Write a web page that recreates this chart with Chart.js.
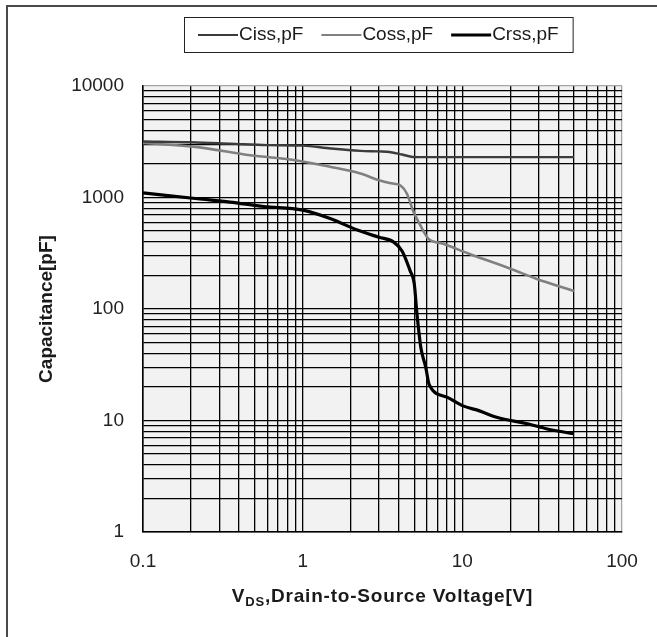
<!DOCTYPE html>
<html>
<head>
<meta charset="utf-8">
<script src="https://cdn.jsdelivr.net/npm/chart.js@4.4.1/dist/chart.umd.min.js"></script>
<style>
  html,body{margin:0;padding:0;background:#fff}
  canvas{display:block}
</style>
</head>
<body>
<canvas id="capChart" width="657" height="637"></canvas>
<script>
// Capacitance vs V_DS, log/log
const cissV = [0.1, 0.2, 0.35, 0.6, 1.0, 1.5, 2.3, 3.0, 3.5, 4.2, 4.9, 6, 10, 20, 50];
const cissC = [3180, 3130, 3040, 2950, 2920, 2750, 2620, 2590, 2560, 2430, 2310, 2300, 2300, 2300, 2300];

const cossV = [0.1, 0.22, 0.47, 0.92, 1.5, 2.3, 3.0, 3.6, 4.1, 4.5, 4.9, 5.4, 6.1, 7.6, 11, 20, 29, 50];
const cossC = [3080, 2830, 2390, 2150, 1880, 1640, 1430, 1340, 1280, 1080, 770, 580, 430, 385, 313, 230, 187, 145];

const crssV = [0.1, 0.22, 0.35, 0.57, 1.0, 1.5, 2.2, 3.0, 3.7, 4.2, 4.7, 5.0, 5.2, 5.5, 5.9, 6.2, 8, 10, 12.8, 16.4, 26, 34, 50];
const crssC = [1100, 975, 910, 830, 770, 645, 510, 440, 400, 330, 222, 168, 90, 45, 30, 21, 16.2, 13.6, 12.2, 10.7, 9.3, 8.4, 7.6];

const seriesNames = ['Ciss,pF', 'Coss,pF', 'Crss,pF'];
const xTickLabels = ['0.1', '1', '10', '100'];
const yTickLabels = ['1', '10', '100', '1000', '10000'];
const minorSteps = [1, 2, 3, 4, 5, 6, 7, 8, 9];

const FONT = 'Arial, "Liberation Sans", sans-serif';
const seriesColors = ['#3c3c3c', '#808080', '#000000'];
const seriesWidths = [2.4, 2.6, 3.2];

// one tick per minor step inside each decade, plus the last decade
function logTicks(labels){
  const dec = labels.map(Number), out = [];
  dec.forEach((d, i) => {
    if (i === dec.length - 1) { out.push({value: d}); return; }
    minorSteps.forEach(m => out.push({value: d * m}));
  });
  return out;
}
function decadeLabel(v, labels){
  const hit = labels.find(l => Math.abs(Number(l) - v) < 1e-9 * Math.max(1, v));
  return hit || '';
}
const pts = (xs, ys) => xs.map((x, i) => ({x, y: ys[i]}));

const series = [pts(cissV, cissC), pts(cossV, cossC), pts(crssV, crssC)];

// background, outer frame, legend box and x title with subscript
const decorPlugin = {
  id: 'decor',
  beforeDraw(chart){
    const {ctx, chartArea: a} = chart;
    ctx.save();
    ctx.fillStyle = '#fff';
    ctx.fillRect(0, 0, chart.width, chart.height);
    ctx.fillStyle = '#f2f2f2';
    ctx.fillRect(a.left, a.top, a.right - a.left, a.bottom - a.top);
    ctx.restore();
  },
  afterDraw(chart){
    const {ctx, chartArea: a} = chart;
    ctx.save();
    // outer frame (right/bottom fall outside the picture)
    ctx.strokeStyle = '#4a4a4a';
    ctx.lineWidth = 2;
    ctx.strokeRect(7, 6, 660, 660);

    // legend
    const sample = 40, gap = 1, between = 18, pad = 14;
    ctx.font = '19px ' + FONT;
    const widths = seriesNames.map(n => ctx.measureText(n).width);
    const total = pad * 2 + widths.reduce((s, w) => s + sample + gap + w, 0) + between * (seriesNames.length - 1);
    const boxL = Math.round(378 - total / 2), boxT = 17, boxH = 35;
    ctx.fillStyle = '#fff';
    ctx.fillRect(boxL, boxT, total, boxH);
    ctx.strokeStyle = '#222';
    ctx.lineWidth = 1;
    ctx.strokeRect(boxL + 0.5, boxT + 0.5, total, boxH);
    let x = boxL + pad;
    const ly = boxT + boxH / 2 + 0.5;
    seriesNames.forEach((n, i) => {
      ctx.strokeStyle = seriesColors[i];
      ctx.lineWidth = seriesWidths[i] - 0.4;
      ctx.beginPath(); ctx.moveTo(x, ly); ctx.lineTo(x + sample, ly); ctx.stroke();
      x += sample + gap;
      ctx.fillStyle = '#1a1a1a';
      ctx.textBaseline = 'middle';
      ctx.textAlign = 'left';
      ctx.fillText(n, x, ly);
      x += widths[i] + between;
    });

    // x axis title: V with subscript DS
    const big = 'bold 19px ' + FONT, small = 'bold 13px ' + FONT;
    const p1 = 'V', p2 = 'DS', p3 = ',Drain-to-Source Voltage[V]';
    ctx.letterSpacing = '0.8px';
    ctx.font = big; const w1 = ctx.measureText(p1).width, w3 = ctx.measureText(p3).width;
    ctx.font = small; const w2 = ctx.measureText(p2).width;
    const cx = (a.left + a.right) / 2, ty = 597;
    let tx = cx - (w1 + w2 + w3) / 2;
    ctx.fillStyle = '#1a1a1a';
    ctx.textBaseline = 'middle';
    ctx.font = big; ctx.fillText(p1, tx, ty); tx += w1;
    ctx.font = small; ctx.fillText(p2, tx, ty + 5); tx += w2;
    ctx.font = big; ctx.fillText(p3, tx, ty);
    ctx.restore();
  }
};

const gridColor = max => c => (c.tick && Math.abs(c.tick.value - max) < 1e-9 ? '#a6a6a6' : '#000');

new Chart(document.getElementById('capChart').getContext('2d'), {
  type: 'scatter',
  data: {
    datasets: series.map((d, i) => ({
      label: seriesNames[i],
      data: d,
      showLine: true,
      borderColor: seriesColors[i],
      borderWidth: seriesWidths[i],
      pointRadius: 0,
      cubicInterpolationMode: 'monotone',
      fill: false
    }))
  },
  options: {
    responsive: false,
    animation: false,
    layout: {padding: {top: 86, right: 35, left: 0, bottom: 0}},
    plugins: {legend: {display: false}, tooltip: {enabled: false}},
    scales: {
      x: {
        type: 'logarithmic',
        min: 0.1, max: 100,
        afterBuildTicks: s => { s.ticks = logTicks(xTickLabels); },
        afterFit: s => { s.height = 105; },
        grid: {color: gridColor(100), lineWidth: 1.3, drawTicks: false},
        border: {color: '#000', width: 1.5},
        ticks: {autoSkip: false, maxRotation: 0, padding: 18, color: '#222',
                font: {family: FONT, size: 19}, callback: v => decadeLabel(v, xTickLabels)}
      },
      y: {
        type: 'logarithmic',
        min: 1, max: 10000,
        afterBuildTicks: s => { s.ticks = logTicks(yTickLabels); },
        afterFit: s => { s.width = 143; },
        grid: {color: gridColor(10000), lineWidth: 1.3, drawTicks: false},
        border: {color: '#000', width: 1.5},
        ticks: {autoSkip: false, padding: 19, color: '#222',
                font: {family: FONT, size: 19}, callback: v => decadeLabel(v, yTickLabels)},
        title: {display: true, text: 'Capacitance[pF]', color: '#1a1a1a',
                font: {family: FONT, size: 19, weight: 'bold'}, padding: {top: 35, bottom: 0}}
      }
    }
  },
  plugins: [decorPlugin]
});
</script>
</body>
</html>
